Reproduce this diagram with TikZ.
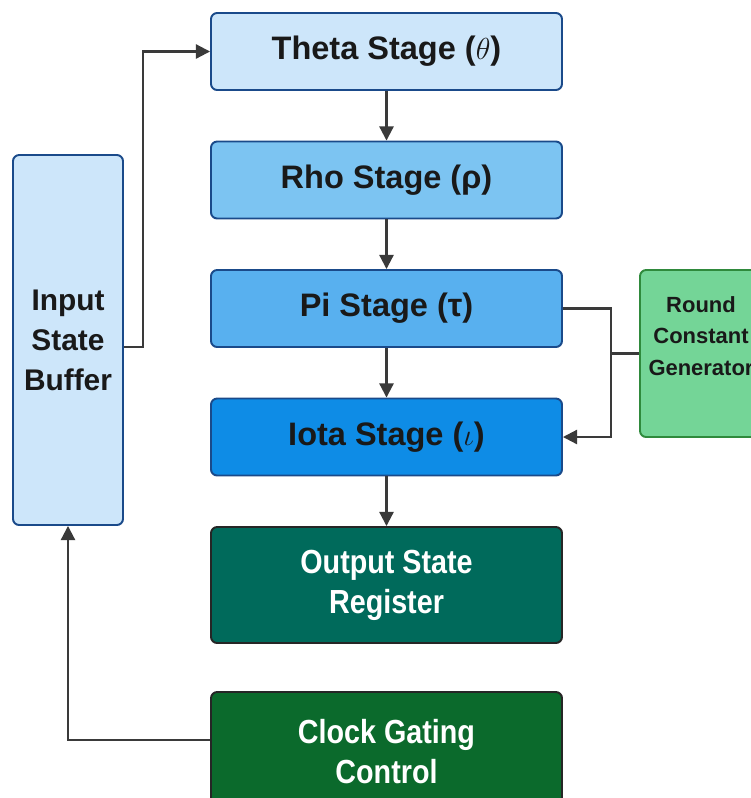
\documentclass[tikz,border=0pt]{standalone}
\usepackage{fontspec}
\setmainfont{Liberation Sans}
\newfontfamily\condfont{Liberation Sans}[FakeStretch=0.86]
\usetikzlibrary{arrows.meta}

\definecolor{linegray}{HTML}{3A3A3A}
\definecolor{bluedark}{HTML}{1A4A8A}
\definecolor{thetafill}{HTML}{CDE6FA}
\definecolor{rhofill}{HTML}{7CC4F2}
\definecolor{pifill}{HTML}{58B0EF}
\definecolor{iotafill}{HTML}{0E8CE6}
\definecolor{outfill}{HTML}{006A5B}
\definecolor{clockfill}{HTML}{0B6A2C}
\definecolor{rcgfill}{HTML}{74D597}
\definecolor{rcgdraw}{HTML}{2F8A3C}

\begin{document}
\begin{tikzpicture}[
  box/.style={draw=bluedark, line width=1.1pt, rounded corners=3.5pt, inner sep=0pt},
  stage/.style={box, minimum width=7.02cm, minimum height=1.54cm,
    font=\fontsize{18.5}{22}\selectfont\bfseries, text=black!90},
  green/.style={box, draw=black!85, minimum width=7.02cm, text=white, align=center,
    font=\fontsize{19}{22.7}\selectfont\condfont\bfseries},
  conn/.style={draw=linegray, line width=1.2pt, -{Triangle[length=8pt,width=8pt]}},
  wire/.style={draw=linegray, line width=1.2pt}]

  \useasboundingbox (0,0) rectangle (15,-15.96);
  \fill[white] (0,0) rectangle (15,-15.96);

  % 各级
  \node[stage, fill=thetafill] (theta) at (7.73,-1.03) {Theta Stage ($\theta$)};
  \node[stage, fill=rhofill]   (rho)   at (7.73,-3.60) {Rho Stage (ρ)};
  \node[stage, fill=pifill]    (pi)    at (7.73,-6.17) {Pi Stage (τ)};
  \node[stage, fill=iotafill]  (iota)  at (7.73,-8.74) {Iota Stage ($\iota$)};
  \node[green, fill=outfill, minimum height=2.32cm] (outreg) at (7.73,-11.70) {Output State\\Register};
  \node[green, fill=clockfill, minimum height=2.40cm] (clock) at (7.73,-15.04) {Clock Gating\\Control};

  % 输入缓冲 与 轮常数
  \node[box, fill=thetafill, minimum width=2.2cm, minimum height=7.4cm, align=center,
    font=\fontsize{17}{22.7}\selectfont\bfseries, text=black!90] (inbuf) at (1.36,-6.80) {Input\\State\\Buffer};
  \node[box, draw=rcgdraw, fill=rcgfill, minimum width=2.4cm, minimum height=3.34cm] (rcg) at (14.0,-7.07) {};
  \node[align=center, font=\fontsize{12.5}{18}\selectfont\bfseries, text=black!90] (rcgtext) at (14.02,-6.72) {Round\\Constant\\Generator};

  % 连线
  \foreach \a/\b in {theta/rho, rho/pi, pi/iota, iota/outreg}
    \draw[conn] (\a) -- (\b);
  \draw[conn] ([yshift=-0.14cm]inbuf.east) -- ++(0.38,0) |- (theta.west);
  \draw[conn] (pi.east) -- ++(0.96,0) coordinate (bus) |- (iota.east);
  \draw[wire] (rcg.west) -- (rcg.west -| bus);
  \draw[conn] ([yshift=0.24cm]clock.west) -| (inbuf.south);
\end{tikzpicture}
\end{document}
